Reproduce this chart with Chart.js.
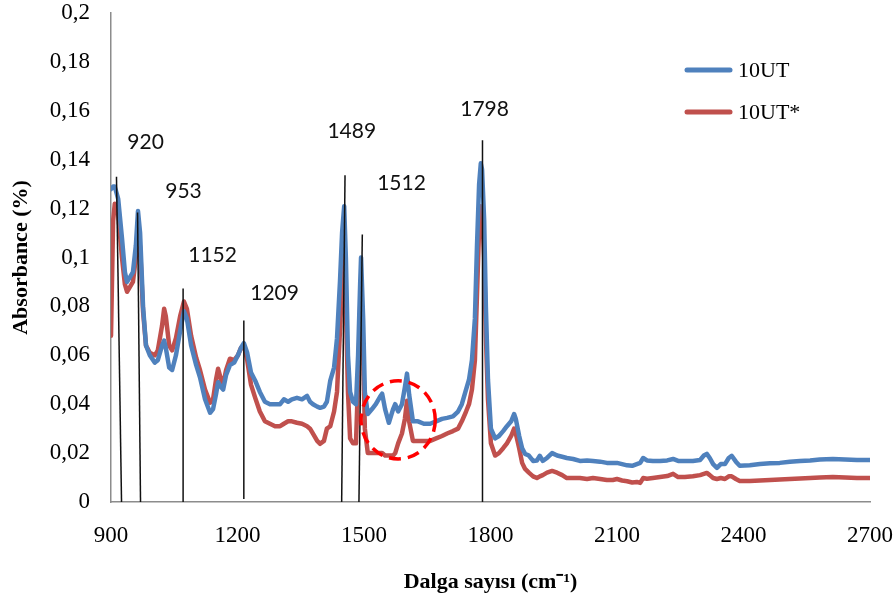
<!DOCTYPE html>
<html>
<head>
<meta charset="utf-8">
<script src="https://cdn.jsdelivr.net/npm/chart.js@4.4.1/dist/chart.umd.min.js"></script>
<style>
  html, body { margin: 0; padding: 0; background: #fff; }
  #wrap { width: 896px; height: 601px; }
</style>
</head>
<body>
<div id="wrap"><canvas id="chart" width="896" height="601"></canvas></div>
<script>
// wavenumbers (cm-1)
const wavenumbers = [
  900, 905, 909, 917, 926, 933, 938, 945, 952, 959,
  964, 969, 976, 983, 992, 1004, 1011, 1021, 1026, 1030,
  1038, 1045, 1054, 1064, 1073, 1080, 1090, 1102, 1111, 1123,
  1135, 1142, 1149, 1154, 1161, 1166, 1173, 1182, 1192, 1201,
  1208, 1215, 1223, 1232, 1242, 1253, 1265, 1277, 1289, 1301,
  1310, 1320, 1329, 1341, 1353, 1365, 1372, 1379, 1389, 1396,
  1405, 1412, 1420, 1429, 1436, 1443, 1448, 1453, 1457, 1462,
  1467, 1474, 1481, 1486, 1491, 1493, 1498, 1502, 1509, 1519,
  1528, 1538, 1543, 1550, 1559, 1569, 1574, 1581, 1590, 1597,
  1602, 1607, 1616, 1628, 1642, 1657, 1671, 1685, 1697, 1711,
  1723, 1732, 1742, 1749, 1756, 1763, 1768, 1773, 1777, 1780,
  1785, 1789, 1794, 1801, 1811, 1820, 1830, 1839, 1849, 1856,
  1860, 1868, 1875, 1882, 1891, 1901, 1910, 1917, 1924, 1934,
  1946, 1958, 1970, 1981, 1996, 2012, 2029, 2043, 2060, 2076,
  2090, 2100, 2112, 2124, 2136, 2147, 2155, 2162, 2171, 2185,
  2202, 2219, 2233, 2245, 2261, 2280, 2297, 2306, 2313, 2320,
  2328, 2337, 2346, 2356, 2365, 2372, 2382, 2391, 2415, 2439,
  2463, 2486, 2510, 2534, 2558, 2581, 2612, 2641, 2669, 2700
];

const ut10 = [
  .128, .129, .129, .124, .108, .094, .090, .092, .094, .105,
  .119, .110, .080, .064, .060, .057, .058, .064, .066, .063,
  .055, .054, .060, .070, .078, .075, .064, .056, .051, .042,
  .0365, .038, .044, .049, .047, .046, .052, .056, .057, .060,
  .063, .065, .061, .053, .0496, .045, .041, .040, .040, .040,
  .042, .041, .042, .0426, .042, .0434, .041, .040, .039, .0385,
  .039, .041, .0496, .055, .067, .090, .110, .121, .100, .060,
  .045, .041, .040, .060, .090, .100, .075, .045, .036, .038,
  .040, .043, .0443, .038, .0324, .038, .040, .037, .040, .047,
  .0525, .044, .033, .033, .032, .032, .033, .034, .0344, .035,
  .037, .040, .046, .050, .058, .075, .105, .130, .1385, .136,
  .115, .080, .050, .030, .026, .027, .029, .031, .033, .036,
  .034, .027, .022, .0197, .019, .0168, .017, .0189, .0168, .018,
  .020, .019, .0185, .018, .0176, .0168, .017, .0168, .0165, .016,
  .016, .016, .0155, .015, .0148, .0155, .016, .018, .017, .0168,
  .0168, .017, .0176, .0168, .0168, .0168, .0172, .019, .0197, .018,
  .0155, .014, .0155, .0155, .018, .0189, .0165, .0148, .015, .0155,
  .0158, .016, .0165, .0168, .017, .0174, .0176, .0174, .0172, .0172
];

const ut10star = [
  .068, .115, .122, .118, .100, .089, .086, .088, .090, .100,
  .113, .104, .078, .064, .061, .060, .062, .072, .079, .076,
  .064, .062, .067, .076, .082, .079, .068, .059, .054, .046,
  .0406, .042, .050, .0545, .050, .048, .054, .0586, .058, .060,
  .063, .064, .058, .048, .0426, .037, .033, .032, .031, .031,
  .032, .033, .033, .0324, .032, .031, .030, .028, .025, .0238,
  .025, .030, .031, .037, .045, .070, .090, .1008, .080, .045,
  .026, .024, .024, .050, .080, .0865, .062, .030, .020, .020,
  .020, .020, .020, .019, .019, .019, .020, .024, .028, .034,
  .0414, .033, .025, .025, .025, .025, .026, .027, .028, .029,
  .030, .033, .037, .040, .046, .058, .085, .112, .121, .119,
  .100, .068, .042, .024, .019, .020, .022, .024, .027, .030,
  .028, .022, .016, .0135, .012, .0105, .0098, .0105, .011, .012,
  .0127, .012, .011, .0098, .0098, .0098, .0094, .0098, .0094, .009,
  .009, .0094, .0088, .0085, .008, .0082, .0078, .0098, .0095, .0098,
  .0102, .0106, .0115, .0102, .0102, .0105, .011, .0115, .0119, .011,
  .0098, .0094, .0098, .0094, .0105, .0105, .0094, .0086, .0086, .0088,
  .009, .0092, .0094, .0096, .0098, .010, .0102, .010, .0098, .0098
];

// peak marker lines (wavenumber, absorbance) and their labels
const peakLabels = ['920', '953', '1152', '1209', '1489', '1512', '1798'];
const peakTop = [[913, 0.133], [963, 0.1184], [1071, 0.0873], [1215, 0.0742], [1455, 0.1336], [1496, 0.1094], [1781, 0.148]];
const peakBase = [[925, 0], [970, 0], [1071, 0], [1215, 0.0012], [1447, 0], [1488, 0], [1781, 0]];
const peakLabelAt = [[982, 0.147], [1072, 0.127], [1141, 0.1008], [1288, 0.0852], [1471, 0.1516], [1589, 0.1303], [1786, 0.1607]];

// highlighted region (dashed circle)
const circleCenter = [1581, 0.0336];
const circleRadius = [88, 0.016];

const seriesNames = ['10UT', '10UT*'];
const seriesColors = ['#4F81BD', '#C0504D'];

const toPoints = ys => wavenumbers.map((x, i) => ({ x: x, y: ys[i] }));

const overlayPlugin = {
    id: 'overlay',
    afterDatasetsDraw(chart) {
        const { ctx, scales: { x, y } } = chart;
        ctx.save();

        // peak lines
        ctx.strokeStyle = '#111';
        ctx.lineWidth = 1.5;
        peakTop.forEach((t, i) => {
            ctx.beginPath();
            ctx.moveTo(x.getPixelForValue(t[0]), y.getPixelForValue(t[1]));
            ctx.lineTo(x.getPixelForValue(peakBase[i][0]), y.getPixelForValue(peakBase[i][1]));
            ctx.stroke();
        });

        // peak labels
        ctx.fillStyle = '#111';
        ctx.font = '21px Lato';
        ctx.textAlign = 'center';
        ctx.textBaseline = 'middle';
        peakLabels.forEach((lab, i) => {
            ctx.fillText(lab, x.getPixelForValue(peakLabelAt[i][0]), y.getPixelForValue(peakLabelAt[i][1]));
        });

        // dashed circle
        const cx = x.getPixelForValue(circleCenter[0]);
        const cy = y.getPixelForValue(circleCenter[1]);
        const rx = x.getPixelForValue(circleCenter[0] + circleRadius[0]) - cx;
        const ry = cy - y.getPixelForValue(circleCenter[1] + circleRadius[1]);
        ctx.strokeStyle = '#FF0000';
        ctx.lineWidth = 3.5;
        ctx.setLineDash([12, 7]);
        ctx.beginPath();
        ctx.ellipse(cx, cy, rx, ry, 0, 0, Math.PI * 2);
        ctx.stroke();
        ctx.setLineDash([]);

        // legend
        ctx.font = '22px "Liberation Serif"';
        ctx.textAlign = 'left';
        ctx.lineCap = 'round';
        chart.data.datasets.forEach((ds, i) => {
            const ly = 70 + i * 42;
            ctx.strokeStyle = ds.borderColor;
            ctx.lineWidth = 5;
            ctx.beginPath();
            ctx.moveTo(687, ly);
            ctx.lineTo(730, ly);
            ctx.stroke();
            ctx.fillStyle = '#000';
            ctx.fillText(ds.label, 738, ly + 1);
        });
        ctx.restore();
    }
};

function fmtComma(v) {
    return String(+v.toFixed(2)).replace('.', ',');
}

new Chart(document.getElementById('chart'), {
    type: 'line',
    data: {
        datasets: [
            { label: seriesNames[0], data: toPoints(ut10), borderColor: seriesColors[0] },
            { label: seriesNames[1], data: toPoints(ut10star), borderColor: seriesColors[1] }
        ]
    },
    options: {
        responsive: false,
        animation: false,
        devicePixelRatio: 1,
        layout: { padding: { top: 13, right: 26, left: 0, bottom: 0 } },
        elements: {
            point: { radius: 0 },
            line: { borderWidth: 4.5, tension: 0, borderJoinStyle: 'round', borderCapStyle: 'round' }
        },
        plugins: { legend: { display: false }, tooltip: { enabled: false } },
        scales: {
            x: {
                type: 'linear',
                min: 900,
                max: 2700,
                afterFit: s => { s.height = 99; s.paddingLeft = 0; s.paddingRight = 0; },
                ticks: {
                    stepSize: 300,
                    padding: 20,
                    color: '#000',
                    font: { family: 'Liberation Serif', size: 23 },
                    callback: v => String(v)
                },
                grid: { display: false, drawTicks: false },
                border: { display: true, color: '#8c8c8c', width: 1.5 },
                title: {
                    display: true,
                    text: 'Dalga sayısı (cm⁻¹)',
                    color: '#000',
                    font: { family: 'Liberation Serif', size: 22, weight: 'bold' },
                    padding: { top: 0, bottom: 5 }
                }
            },
            y: {
                min: 0,
                max: 0.2,
                afterFit: s => { s.width = 111; s.paddingTop = 0; s.paddingBottom = 0; },
                ticks: {
                    stepSize: 0.02,
                    padding: 21,
                    color: '#000',
                    font: { family: 'Liberation Serif', size: 23 },
                    callback: v => fmtComma(v)
                },
                grid: { display: false, drawTicks: false },
                border: { display: true, color: '#8c8c8c', width: 1.5 },
                title: {
                    display: true,
                    text: 'Absorbance (%)',
                    color: '#000',
                    font: { family: 'Liberation Serif', size: 22, weight: 'bold' },
                    padding: { top: 8, bottom: 0 }
                }
            }
        }
    },
    plugins: [overlayPlugin]
});
</script>
</body>
</html>
